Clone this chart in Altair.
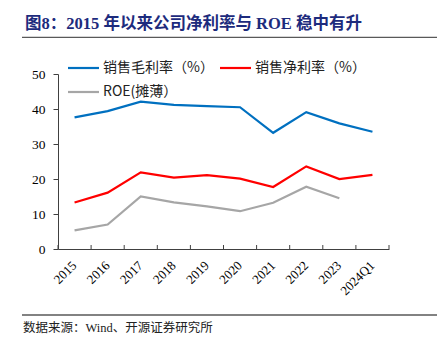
import altair as alt
import pandas as pd

categories = ["2015", "2016", "2017", "2018", "2019", "2020", "2021", "2022", "2023", "2024Q1"]
gross_margin = [37.6, 39.4, 42.1, 41.2, 40.8, 40.5, 33.2, 39.1, 35.9, 33.5]
net_margin = [13.3, 16.1, 21.9, 20.4, 21.1, 20.1, 17.7, 23.6, 20.0, 21.2]
roe = [5.3, 7.0, 15.0, 13.3, 12.2, 10.8, 13.2, 17.8, 14.5, None]

series_names = ["销售毛利率（%）", "销售净利率（%）", "ROE(摊薄）"]
series_colors = ["#0070C0", "#FF0000", "#A6A6A6"]

title_text = "图8：2015 年以来公司净利率与 ROE 稳中有升"
source_text = "数据来源：Wind、开源证券研究所"

rows = []
for name, vals in zip(series_names, [gross_margin, net_margin, roe]):
    for c, v in zip(categories, vals):
        if v is not None:
            rows.append({"cat": c, "value": v, "series": name})
df = pd.DataFrame(rows)

W, H = 331, 175
serif = "Liberation Serif, Times New Roman, Noto Sans CJK SC"

xscale = alt.Scale(type="band", domain=categories, paddingInner=0, paddingOuter=0)

lines = alt.Chart(df).mark_line(strokeWidth=2.2).encode(
    x=alt.X("cat:N", scale=xscale, bandPosition=0.5,
            axis=alt.Axis(title=None, ticks=False, labelAngle=-45, labelFont=serif,
                          labelFontSize=13, labelColor="#000000", domainColor="#404040",
                          labelPadding=14)),
    y=alt.Y("value:Q", scale=alt.Scale(domain=[0, 50]),
            axis=alt.Axis(title=None, values=[0, 10, 20, 30, 40, 50], grid=False,
                          tickSize=5, tickColor="#404040", domainColor="#404040",
                          labelFont=serif, labelFontSize=13.5, labelColor="#000000",
                          labelPadding=8)),
    color=alt.Color("series:N", scale=alt.Scale(domain=series_names, range=series_colors),
                    legend=None),
)

tick_df = pd.DataFrame({"cat": categories})
ticks_left = alt.Chart(tick_df).mark_rule(color="#404040", strokeWidth=1).encode(
    x=alt.X("cat:N", scale=xscale, bandPosition=0),
    y=alt.value(H), y2=alt.value(H - 4),
)
ticks_right = alt.Chart(pd.DataFrame({"cat": [categories[-1]]})).mark_rule(color="#404040", strokeWidth=1).encode(
    x=alt.X("cat:N", scale=xscale, bandPosition=1),
    y=alt.value(H), y2=alt.value(H - 4),
)

# manual legend (layout positions in plot-area pixels)
legend_pos = [(10, -6), (162, -6), (10, 18)]
legend_layers = []
for name, color, (lx, ly) in zip(series_names, series_colors, legend_pos):
    d = pd.DataFrame({"t": [name]})
    legend_layers.append(alt.Chart(d).mark_rule(color=color, strokeWidth=2.2).encode(
        x=alt.value(lx), x2=alt.value(lx + 31), y=alt.value(ly)))
    legend_layers.append(alt.Chart(d).mark_text(
        align="left", baseline="middle", font="Noto Sans CJK SC", fontSize=14, color="#222222"
    ).encode(x=alt.value(lx + 35), y=alt.value(ly), text="t:N"))

title = alt.Chart(pd.DataFrame({"t": [title_text]})).mark_text(
    align="left", baseline="alphabetic", font="Liberation Serif, Noto Sans CJK SC",
    fontWeight="bold", fontSize=16.5, color="#1d2b7d"
).encode(x=alt.value(-33), y=alt.value(-45), text="t:N")

source = alt.Chart(pd.DataFrame({"t": [source_text]})).mark_text(
    align="left", baseline="alphabetic", font="Liberation Serif, Noto Sans CJK SC",
    fontSize=12.5, color="#222222"
).encode(x=alt.value(-35), y=alt.value(258), text="t:N")

top_line = alt.Chart(pd.DataFrame({"a": [0]})).mark_rule(color="#595959", strokeWidth=1.3).encode(
    x=alt.value(-36), x2=alt.value(379), y=alt.value(-36.7))
bottom_line = alt.Chart(pd.DataFrame({"a": [0]})).mark_rule(color="#595959", strokeWidth=1.3).encode(
    x=alt.value(-36), x2=alt.value(379), y=alt.value(241))

chart = alt.layer(ticks_left, ticks_right, lines, *legend_layers, title, source, top_line, bottom_line).properties(
    width=W, height=H,
    autosize=alt.AutoSizeParams(type="none"),
    padding={"left": 58, "top": 74, "right": 48, "bottom": 100},
    background="white",
).configure_view(stroke=None)

chart.save("out.html", embed_options={"renderer": "svg", "actions": False})
